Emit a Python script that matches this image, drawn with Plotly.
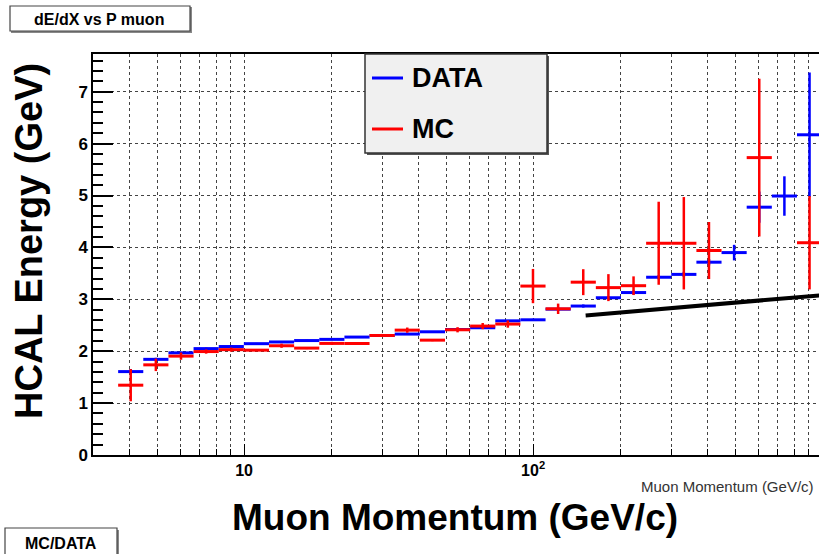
import numpy as np
import plotly.graph_objects as go

# 29 logarithmic momentum bins between 3 and 1000 GeV/c (bin 0 is empty)
bin_edges = np.logspace(np.log10(3.0), 3.0, 30)

# Mean HCAL energy per bin (GeV) and its uncertainty
data_energy = [None, 1.607, 1.843, 1.968, 2.050, 2.090, 2.145, 2.178, 2.205, 2.228,
               2.272, 2.303, 2.330, 2.374, 2.418, 2.452, 2.585, 2.605, 2.810, 2.870,
               3.030, 3.130, 3.425, 3.480, 3.715, 3.900, 4.775, 4.990, 6.170]
data_error = [None, 0.05, 0.03, 0.02, 0.02, 0.02, 0.015, 0.015, 0.015, 0.015,
              0.015, 0.015, 0.015, 0.015, 0.015, 0.015, 0.015, 0.02, 0.03, 0.03,
              0.03, 0.04, 0.04, 0.05, 0.06, 0.15, 0.30, 0.38, 1.20]

mc_energy = [None, 1.345, 1.737, 1.905, 1.993, 2.030, 2.020, 2.105, 2.060, 2.150,
             2.148, 2.303, 2.406, 2.213, 2.413, 2.484, 2.523, 3.255, 2.817, 3.330,
             3.225, 3.262, 4.080, 4.080, 3.940, None, 5.730, None, 4.090]
mc_error = [None, 0.31, 0.12, 0.07, 0.04, 0.04, 0.02, 0.04, 0.02, 0.03,
            0.02, 0.03, 0.05, 0.02, 0.05, 0.06, 0.07, 0.33, 0.10, 0.25,
            0.26, 0.18, 0.80, 0.89, 0.55, None, 1.52, None, 0.90]

# Reference curve (straight in log p)
fit_p = [152.0, 1000.0]
fit_e = [2.69, 3.08]

y_ticks = [0, 1, 2, 3, 4, 5, 6, 7]
x_ticks = [10, 100]
x_ticktext = ["10", "10<sup>2</sup>"]
x_minor = [4, 5, 6, 7, 8, 9, 20, 30, 40, 50, 60, 70, 80, 90,
           200, 300, 400, 500, 600, 700, 800, 900]

FONT = "Liberation Sans, Arial, Helvetica, sans-serif"

# Canvas geometry in pixels
W, H = 819, 554
L, R, T, B = 93, 0, 54, 99
PW, PH = W - L - R, H - T - B
DECADE = 289.0


def px(x):
    return (x - L) / PW


def py(y):
    return (H - B - y) / PH


lo = bin_edges[:-1]
hi = bin_edges[1:]
centers = np.sqrt(lo * hi)


def series(vals, errs, color):
    xs, ys, ep, em, ey = [], [], [], [], []
    for c, a, b, v, e in zip(centers, lo, hi, vals, errs):
        if v is None:
            continue
        xs.append(c)
        ys.append(v)
        ep.append(b - c)
        em.append(c - a)
        ey.append(e)
    return go.Scatter(
        x=xs, y=ys, mode="markers",
        marker=dict(size=0.1, color=color),
        error_x=dict(type="data", symmetric=False, array=ep, arrayminus=em,
                     color=color, thickness=3, width=0),
        error_y=dict(type="data", array=ey, color=color, thickness=2.5, width=0),
        showlegend=False, hoverinfo="skip",
    )


fig = go.Figure()
fig.add_trace(series(data_energy, data_error, "#0000ff"))
fig.add_trace(series(mc_energy, mc_error, "#ff0000"))
fig.add_trace(go.Scatter(x=fit_p, y=fit_e, mode="lines",
                         line=dict(color="black", width=4),
                         showlegend=False, hoverinfo="skip"))

x0 = np.log10(3.0)
fig.update_xaxes(
    type="log", range=[x0, x0 + PW / DECADE],
    showline=True, linecolor="black", linewidth=1.5, mirror=True,
    ticks="inside", ticklen=11, tickwidth=1, tickcolor="black",
    tickmode="array", tickvals=x_ticks, ticktext=x_ticktext,
    tickfont=dict(family=FONT, size=16, color="black", weight="bold"),
    showgrid=True, gridcolor="#444", griddash="dot", gridwidth=1,
    minor=dict(tickmode="array", tickvals=x_minor, ticks="inside", ticklen=6,
               tickcolor="black", showgrid=True, gridcolor="#444",
               griddash="dot", gridwidth=1),
    zeroline=False,
)
fig.update_yaxes(
    range=[0, (H - B - T) / 51.9],
    showline=True, linecolor="black", linewidth=1.5,
    ticks="inside", ticklen=20, tickwidth=1.5, tickcolor="black",
    tickmode="array", tickvals=y_ticks,
    tickfont=dict(family=FONT, size=17, color="black", weight="bold"),
    showgrid=True, gridcolor="#444", griddash="dot", gridwidth=1,
    minor=dict(dtick=0.2, ticks="inside", ticklen=10, tickcolor="black",
               showgrid=False),
    zeroline=False,
)

shapes = []
annotations = []

# Legend box with shadow
lx0, lx1, ly0, ly1 = 365, 547, 54, 153
shapes.append(dict(type="rect", xref="paper", yref="paper",
                   x0=px(lx0 + 2), x1=px(lx1 + 2), y0=py(ly1 + 2), y1=py(ly0 + 2),
                   fillcolor="#555", line=dict(width=0)))
shapes.append(dict(type="rect", xref="paper", yref="paper",
                   x0=px(lx0), x1=px(lx1), y0=py(ly1), y1=py(ly0),
                   fillcolor="#f0f0f0", line=dict(color="#333", width=1.5)))
for yy, col, name in [(78, "#0000ff", "DATA"), (129, "#ff0000", "MC")]:
    shapes.append(dict(type="line", xref="paper", yref="paper",
                       x0=px(372), x1=px(403), y0=py(yy), y1=py(yy),
                       line=dict(color=col, width=3)))
    annotations.append(dict(xref="paper", yref="paper", x=px(410), y=py(yy),
                            xanchor="left", yanchor="middle", showarrow=False,
                            text=name, font=dict(family=FONT, size=27,
                                                 color="black", weight="bold")))

# Title pave
shapes.append(dict(type="rect", xref="paper", yref="paper",
                   x0=px(11), x1=px(192), y0=py(33), y1=py(7),
                   fillcolor="#888", line=dict(width=0)))
shapes.append(dict(type="rect", xref="paper", yref="paper",
                   x0=px(10), x1=px(190), y0=py(31), y1=py(6),
                   fillcolor="white", line=dict(color="#444", width=1.2)))
annotations.append(dict(xref="paper", yref="paper", x=px(99), y=py(19),
                        xanchor="center", yanchor="middle", showarrow=False,
                        text="dE/dX vs P muon",
                        font=dict(family=FONT, size=16, color="black", weight="bold")))

# Lower pave
shapes.append(dict(type="rect", xref="paper", yref="paper",
                   x0=px(6), x1=px(119), y0=py(556), y1=py(530),
                   fillcolor="#888", line=dict(width=0)))
shapes.append(dict(type="rect", xref="paper", yref="paper",
                   x0=px(5), x1=px(117), y0=py(555), y1=py(528),
                   fillcolor="white", line=dict(color="#444", width=1.2)))
annotations.append(dict(xref="paper", yref="paper", x=px(61), y=py(543),
                        xanchor="center", yanchor="middle", showarrow=False,
                        text="MC/DATA",
                        font=dict(family=FONT, size=16, color="black", weight="bold")))

# Axis titles
annotations.append(dict(xref="paper", yref="paper", x=px(455), y=py(517),
                        xanchor="center", yanchor="middle", showarrow=False,
                        text="Muon Momentum (GeV/c)",
                        font=dict(family=FONT, size=37, color="black", weight="bold")))
annotations.append(dict(xref="paper", yref="paper", x=px(29), y=py(241),
                        xanchor="center", yanchor="middle", showarrow=False,
                        textangle=-90, text="HCAL Energy (GeV)",
                        font=dict(family=FONT, size=38, color="black", weight="bold")))
annotations.append(dict(xref="paper", yref="paper", x=px(816), y=py(487),
                        xanchor="right", yanchor="middle", showarrow=False,
                        text="Muon Momentum (GeV/c)",
                        font=dict(family=FONT, size=15, color="#333")))

fig.update_layout(
    width=W, height=H,
    margin=dict(l=L, r=R, t=T, b=B, pad=0),
    paper_bgcolor="white", plot_bgcolor="white",
    shapes=shapes, annotations=annotations,
    showlegend=False,
)

fig.write_html("out.html")
